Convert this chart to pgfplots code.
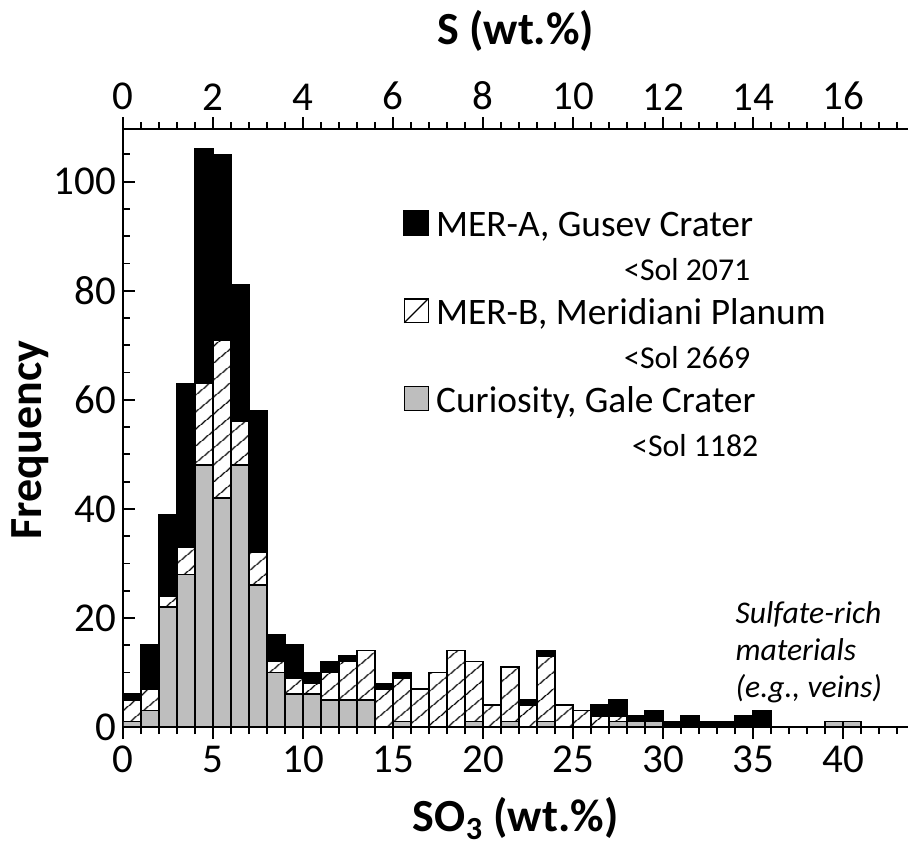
\documentclass[border=0pt]{standalone}
\usepackage{fontspec}
\setmainfont{Carlito}
\usepackage{pgfplots}
\usepackage{pgfplotstable}
\pgfplotsset{compat=1.18}
\usetikzlibrary{patterns.meta}
\definecolor{curgray}{RGB}{190,190,190}

\pgfplotstableread{
x    gale meri gusev
0.5  1  4  1
1.5  3  4  8
2.5  22 2  15
3.5  28 5  30
4.5  48 15 43
5.5  42 29 34
6.5  48 8  25
7.5  26 6  26
8.5  10 2  5
9.5  6  3  6
10.5 6  2  2
11.5 5  5  2
12.5 5  7  1
13.5 5  9  0
14.5 0  7  1
15.5 1  8  1
16.5 0  7  0
17.5 0  10 0
18.5 0  14 0
19.5 1  11 0
20.5 0  4  0
21.5 1  10 0
22.5 0  4  1
23.5 1  12 1
24.5 0  4  0
25.5 0  3  0
26.5 0  2  2
27.5 1  1  3
28.5 1  0  1
29.5 1  0  2
30.5 0  0  1
31.5 0  0  2
32.5 0  0  1
33.5 0  0  1
34.5 0  0  2
35.5 0  0  3
36.5 0  0  0
37.5 0  0  0
38.5 0  0  0
39.5 1  0  0
40.5 1  0  0
}\sdata

\begin{document}
\begin{tikzpicture}
\pgfplotsset{
  common/.style={
    width=392.35pt, height=298.85pt, scale only axis,
    xmin=0, xmax=43.6, ymin=0, ymax=109.6,
    axis line style={line width=1pt},
    tick style={line width=0.9pt, black},
    major tick length=6pt, minor tick length=3.5pt,
    ticklabel style={font=\fontsize{20.5}{24}\selectfont},
    /pgf/number format/assume math mode=true,
  }
}
% data axis with left y axis
\begin{axis}[common,
  hide x axis, axis y line*=left,
  ytick={0,20,...,100}, minor ytick={5,10,...,105},
  tick align=inside,
  ybar stacked, bar width=1,
  ylabel={\bfseries Frequency},
  ylabel style={font=\fontsize{23}{27}\selectfont, at={(axis description cs:-0.119,0.48)}, anchor=center},
  legend style={draw=none, fill=none, at={(axis description cs:0.3564,0.866)}, anchor=north west,
    inner sep=0pt, cells={anchor=west}, font=\fontsize{18.7}{21}\selectfont,
    nodes={inner sep=1pt, text height=12.5pt, text depth=4pt}, row sep=3.5pt,
    /tikz/every odd column/.append style={column sep=2.5pt}},
]
\addplot[forget plot, fill=curgray, draw=black, line width=0.8pt] table[x=x,y=gale]{\sdata};
\addplot[forget plot, pattern={Lines[angle=40,distance=6.5pt,line width=0.7pt]}, draw=black, line width=0.8pt] table[x=x,y=meri]{\sdata};
\addplot[forget plot, fill=black, draw=black, line width=0.8pt] table[x=x,y=gusev]{\sdata};

\addlegendimage{legend image code/.code={\fill[black] (0pt,-3.5pt) rectangle (12.5pt,9pt);}}
\addlegendentry{MER-A, Gusev Crater}
\addlegendimage{empty legend}
\addlegendentry{\hspace*{94pt}\fontsize{15.9}{18}\selectfont <Sol 2071}
\addlegendimage{legend image code/.code={\draw[black,line width=0.6pt,fill=white] (0.3pt,-3.2pt) rectangle (12.2pt,8.7pt); \draw[black,line width=0.6pt] (0.3pt,-3.2pt) -- (12.2pt,8.7pt);}}
\addlegendentry{MER-B, Meridiani Planum}
\addlegendimage{empty legend}
\addlegendentry{\hspace*{94pt}\fontsize{15.9}{18}\selectfont <Sol 2669}
\addlegendimage{legend image code/.code={\draw[black,line width=0.6pt,fill=curgray] (0.3pt,-3.2pt) rectangle (12.2pt,8.7pt);}}
\addlegendentry{Curiosity, Gale Crater}
\addlegendimage{empty legend}
\addlegendentry{\hspace*{98pt}\fontsize{15.9}{18}\selectfont <Sol 1182}

\node[anchor=north west, align=left, inner sep=0pt, font=\itshape\fontsize{15.8}{18.3}\selectfont]
  at (axis cs:34,23.0) {Sulfate-rich\\materials\\(e.g., veins)};
\end{axis}
% bottom x axis (SO3)
\begin{axis}[common,
  hide y axis, axis x line*=bottom,
  xtick={0,5,...,40}, minor xtick={0,1,...,43},
  tick align=outside,
  xlabel={\bfseries SO\textsubscript{3} (wt.\%)},
  xlabel style={font=\fontsize{23}{27}\selectfont, at={(axis description cs:0.5,-0.153)}, anchor=center},
]
\end{axis}
% top x axis (S)
\begin{axis}[common,
  xmin=0, xmax=17.44,
  hide y axis, axis x line*=top,
  xtick={0,2,...,16}, minor xtick={0,0.4,...,17.2},
  tick align=outside,
  xlabel={\bfseries S (wt.\%)},
  xlabel style={font=\fontsize{23}{27}\selectfont, at={(axis description cs:0.5,1.165)}, anchor=center},
]
\end{axis}
\pgfresetboundingbox
\useasboundingbox (-61.65pt,-60.5pt) rectangle (392.85pt,363.5pt);
\end{tikzpicture}
\end{document}
